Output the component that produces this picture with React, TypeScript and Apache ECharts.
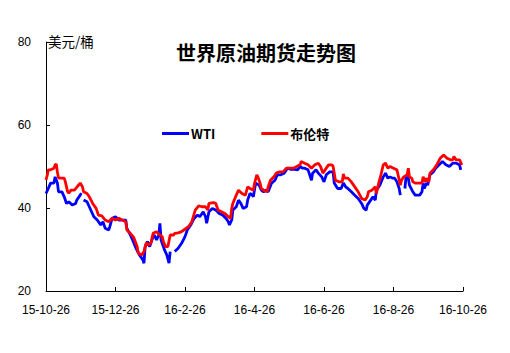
import React, { useEffect, useRef } from "react";
import * as echarts from "echarts";

// x values are day offsets from 2015-10-26
const tickLabels = ["15-10-26", "15-12-26", "16-2-26", "16-4-26", "16-6-26", "16-8-26", "16-10-26"];
const seriesNames = ["WTI", "布伦特"];
const unitLabel = "美元/桶";
const titleText = "世界原油期货走势图";

const wtiDays = [0, 2, 4, 7, 8, 10, 11, 14, 16, 18, 20, 23, 26, 27, 30, 31, 32, 33, 36, 38, 40, 42, 45, 48, 50, 52, 55, 56, 58, 61, 64, 67, 70, 71, 74, 76, 79, 82, 85, 86, 87, 89, 91, 94, 95, 97, 99, 100, 101, 103, 104, 106, 108, 109, 110, 113, 116, 119, 122, 124, 127, 130, 133, 135, 138, 140, 141, 143, 146, 149, 152, 155, 158, 160, 161, 163, 164, 167, 169, 171, 173, 176, 177, 179, 181, 182, 184, 187, 189, 191, 193, 195, 198, 201, 203, 206, 209, 212, 215, 218, 221, 223, 225, 227, 230, 233, 234, 237, 239, 242, 244, 246, 249, 252, 253, 255, 256, 259, 261, 263, 265, 268, 271, 274, 277, 279, 281, 282, 285, 287, 289, 290, 293, 296, 298, 300, 302, 304, 306, 308, 310, 311, 313, 315, 316, 318, 319, 322, 324, 328, 330, 331, 332, 334, 335, 337, 340, 342, 345, 348, 351, 354, 357, 360, 363, 364];
const wtiValues: (number | null)[] = [43.5, 44.7, 46.0, 46.0, 47.5, 46.0, 43.9, 43.9, 42.7, 41.1, 41.5, 40.7, 41.1, 41.9, 43.1, 43.6, null, 41.9, 41.5, 40.3, 39.1, 37.9, 37.1, 35.9, 36.7, 35.1, 34.7, 35.5, 37.5, 37.9, 37.1, 37.1, 37.1, 35.1, 33.5, 32.3, 30.3, 28.7, 27.5, 26.7, 30.7, 31.9, 30.7, 33.1, 33.5, 32.3, 33.5, 36.3, 32.3, 30.7, 29.9, 28.7, 26.7, 29.5, null, 29.5, 30.3, 31.5, 33.1, 34.7, 35.9, 37.5, 38.3, 37.9, 39.1, 37.9, 36.3, 39.1, 39.9, 39.5, 38.7, 38.3, 37.5, 36.7, 35.9, 37.1, 39.5, 40.3, 41.9, 41.1, 39.9, 40.3, 41.9, 43.5, 43.1, 42.7, 46.0, 45.5, 44.3, 43.9, 44.3, 43.9, 46.0, 46.7, 48.0, 48.0, 48.4, 49.6, 49.3, 49.3, 49.2, 50.0, 49.6, 49.6, 49.2, 46.7, 48.4, 49.2, 48.4, 47.5, 46.3, 48.0, 48.7, 48.7, 46.0, 45.1, 44.7, 44.7, 46.0, 45.1, 44.7, 43.9, 43.1, 42.3, 41.1, 39.9, 39.5, 40.7, 41.9, 42.7, 41.9, 44.3, 45.5, 47.5, 48.4, 47.2, 47.5, 47.2, 47.2, 46.3, 44.7, 43.1, null, 44.7, 47.5, 47.2, 45.5, 43.9, 43.1, 43.1, 43.9, 46.0, 44.7, 46.0, 45.5, 48.0, 48.7, 49.6, 50.4, 51.2, 50.4, 50.0, 50.8, 50.8, 50.4, 49.2];

const brentDays = [0, 1, 2, 4, 7, 8, 9, 10, 11, 16, 17, 19, 20, 22, 25, 27, 30, 32, 33, 36, 38, 41, 44, 46, 49, 52, 55, 58, 61, 64, 67, 70, 71, 74, 77, 80, 81, 84, 86, 88, 90, 92, 94, 97, 100, 102, 103, 105, 107, 109, 112, 113, 116, 119, 121, 125, 128, 131, 134, 137, 140, 142, 143, 147, 149, 151, 154, 157, 160, 162, 163, 164, 167, 169, 172, 175, 177, 179, 182, 183, 185, 186, 188, 189, 191, 194, 195, 197, 200, 202, 205, 208, 211, 214, 217, 220, 223, 224, 227, 230, 233, 236, 239, 241, 243, 246, 248, 251, 252, 254, 257, 260, 261, 262, 265, 268, 271, 274, 277, 280, 282, 283, 286, 289, 290, 292, 294, 296, 298, 300, 302, 305, 308, 309, 311, 312, 314, 317, 318, 319, 321, 322, 324, 327, 330, 331, 333, 334, 336, 337, 340, 343, 346, 349, 352, 355, 357, 358, 360, 363, 365];
const brentValues: (number | null)[] = [46.8, 47.8, 49.2, 49.2, 49.6, 50.4, 50.6, 48.7, 47.2, 47.2, 46.3, 43.9, 43.6, 44.3, 44.3, 45.0, 46.0, 45.1, 43.9, 43.5, 42.7, 41.1, 39.9, 38.3, 38.1, 37.1, 36.7, 37.5, 37.1, 37.5, 37.1, 36.7, 34.7, 33.9, 32.9, 30.7, 29.1, 28.7, 29.5, 31.6, 31.1, 31.5, 33.9, 34.3, 33.5, 33.1, 31.9, 30.7, 30.7, 33.5, 33.5, 33.9, 34.0, 34.3, 34.7, 35.5, 36.7, 39.5, 40.5, 40.3, 40.3, 39.5, 41.1, 41.3, 41.1, 39.5, 39.1, 38.7, 37.9, 37.5, 39.9, 41.1, 43.1, 44.3, 43.5, 43.1, 45.1, 44.7, 44.3, 45.9, 48.0, 47.5, 45.9, 44.7, 44.3, 43.9, 45.1, 46.7, 47.5, 48.4, 48.7, 48.7, 49.6, 49.6, 49.6, 50.0, 50.4, 51.2, 50.8, 50.4, 49.6, 50.4, 50.8, 50.0, 48.4, 49.6, 50.4, 50.4, 50.0, 46.7, 46.3, 46.3, 48.2, 47.2, 47.2, 46.3, 45.1, 43.9, 42.3, 41.9, 42.7, 43.9, 44.3, 45.1, 43.5, 46.0, 48.0, 50.4, 50.8, 49.6, 50.0, 49.6, 49.2, 48.0, 45.5, 46.7, 47.5, 48.0, 49.6, 47.5, 47.2, 46.3, 46.0, 46.0, 46.0, 47.5, 46.3, 47.2, 46.3, 48.4, 49.2, 50.4, 52.0, 52.8, 52.0, 51.6, 51.6, 52.4, 51.6, 51.6, 50.4];

const xMin = 0;
const xMax = 366;
const xInterval = 61;

const pairs = (days: number[], vals: (number | null)[]) =>
  days.map((d, i) => [d, vals[i] === null ? "-" : vals[i]]);

export default function App() {
  const ref = useRef<HTMLDivElement>(null);
  useEffect(() => {
    if (!ref.current) return;
    const chart = echarts.init(ref.current, undefined, { renderer: "svg" });
    const latin = "Liberation Sans, Arial, sans-serif";
    const cjk = "Noto Sans CJK SC, sans-serif";
    chart.setOption({
      animation: false,
      backgroundColor: "#ffffff",
      title: {
        text: titleText,
        left: 171,
        top: 37,
        textStyle: { fontFamily: cjk, fontSize: 20, fontWeight: "bold", color: "#000" },
      },
      graphic: [
        {
          type: "text",
          left: 48,
          top: 34,
          style: { text: unitLabel, fontFamily: cjk, fontSize: 13.5, fill: "#000" },
        },
      ],
      legend: {
        data: seriesNames,
        left: 157,
        top: 122,
        icon: "rect",
        itemWidth: 27,
        itemHeight: 3,
        itemGap: 46,
        textStyle: { fontFamily: cjk, fontSize: 13, fontWeight: "bold", color: "#000", padding: [0, 0, 0, -3] },
      },
      grid: { left: 46, right: 47, top: 42, bottom: 62, containLabel: false },
      xAxis: {
        type: "value",
        min: xMin,
        max: xMax,
        interval: xInterval,
        axisLine: { show: true, lineStyle: { color: "#000", width: 1 } },
        axisTick: { show: true, inside: true, length: 4, lineStyle: { color: "#000" } },
        splitLine: { show: false },
        axisLabel: {
          margin: 13,
          fontFamily: latin,
          fontSize: 12,
          color: "#000",
          showMinLabel: true,
          showMaxLabel: true,
          formatter: (v: number) => tickLabels[Math.round(v / xInterval)] ?? "",
        },
      },
      yAxis: {
        type: "value",
        min: 20,
        max: 80,
        interval: 20,
        axisLine: { show: true, lineStyle: { color: "#000", width: 1 } },
        axisTick: { show: true, inside: true, length: 4, lineStyle: { color: "#000" } },
        splitLine: { show: false },
        axisLabel: { margin: 15, fontFamily: latin, fontSize: 12, color: "#000" },
      },
      series: [
        {
          name: seriesNames[0],
          type: "line",
          data: pairs(wtiDays, wtiValues),
          showSymbol: false,
          symbol: "none",
          connectNulls: false,
          itemStyle: { color: "#0000ff" },
          lineStyle: { color: "#0000ff", width: 2.8 },
        },
        {
          name: seriesNames[1],
          type: "line",
          data: pairs(brentDays, brentValues),
          showSymbol: false,
          symbol: "none",
          itemStyle: { color: "#ff0000" },
          lineStyle: { color: "#ff0000", width: 2.8 },
        },
      ],
    });
    return () => chart.dispose();
  }, []);
  return (
    <div
      ref={ref}
      style={{ position: "fixed", left: 0, top: 0, width: 510, height: 353, background: "#fff" }}
    />
  );
}
